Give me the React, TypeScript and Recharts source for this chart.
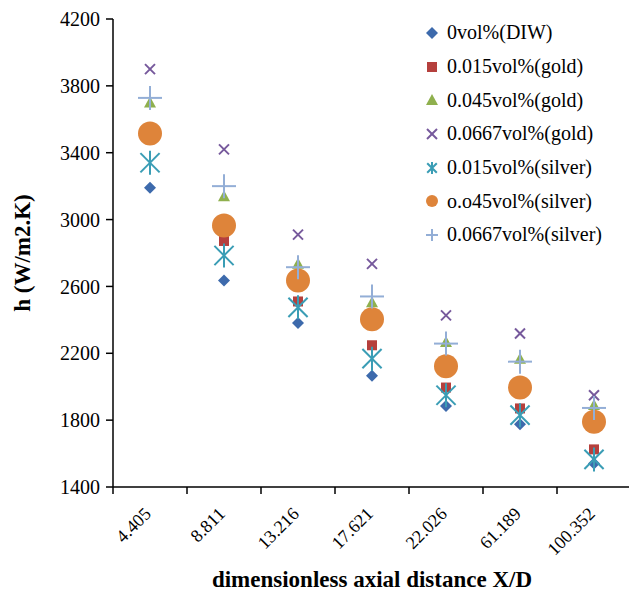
import React from "react";
import { ScatterChart, Scatter, XAxis, YAxis, Label } from "recharts";

const categories = ["4.405", "8.811", "13.216", "17.621", "22.026", "61.189", "100.352"];

const diw = [3190, 2636, 2381, 2065, 1884, 1776, 1540];
const gold015 = [3500, 2872, 2510, 2248, 1995, 1870, 1625];
const gold045 = [3700, 3140, 2735, 2506, 2268, 2168, 1890];
const gold0667 = [3900, 3420, 2910, 2735, 2427, 2318, 1949];
const silver015 = [3340, 2785, 2475, 2168, 1949, 1830, 1565];
const silver045 = [3515, 2964, 2636, 2403, 2122, 1995, 1790];
const silver0667 = [3728, 3200, 2715, 2540, 2258, 2150, 1873];

const yTicks = [1400, 1800, 2200, 2600, 3000, 3400, 3800, 4200];
const xTicks = [0, 1, 2, 3, 4, 5, 6, 7];

const FONT = "'Liberation Serif', 'Times New Roman', serif";
const W = 629;
const H = 585;
const LEFT = 105;
const RIGHT = 6;
const STEP = (W - LEFT - RIGHT) / categories.length;

type MarkerKind = "diamond" | "square" | "triangle" | "x" | "asterisk" | "circle" | "plus";

function Marker({ kind, cx, cy, color, small }: { kind: MarkerKind; cx: number; cy: number; color: string; small?: boolean }) {
  const k = small ? 0.5 : 1;
  switch (kind) {
    case "diamond": {
      const r = 6;
      return <polygon points={`${cx},${cy - r} ${cx + r},${cy} ${cx},${cy + r} ${cx - r},${cy}`} fill={color} />;
    }
    case "square": {
      const r = 5;
      return <rect x={cx - r} y={cy - r} width={2 * r} height={2 * r} fill={color} />;
    }
    case "triangle": {
      const r = 6;
      return <polygon points={`${cx},${cy - r} ${cx + r},${cy + r - 1} ${cx - r},${cy + r - 1}`} fill={color} />;
    }
    case "x": {
      const r = 5;
      return (
        <g stroke={color} strokeWidth={2}>
          <line x1={cx - r} y1={cy - r} x2={cx + r} y2={cy + r} />
          <line x1={cx - r} y1={cy + r} x2={cx + r} y2={cy - r} />
        </g>
      );
    }
    case "asterisk": {
      const r = 12 * k;
      const d = r * 0.8;
      return (
        <g stroke={color} strokeWidth={2}>
          <line x1={cx - d} y1={cy - d} x2={cx + d} y2={cy + d} />
          <line x1={cx - d} y1={cy + d} x2={cx + d} y2={cy - d} />
          <line x1={cx} y1={cy - r} x2={cx} y2={cy + r} />
        </g>
      );
    }
    case "circle":
      return <circle cx={cx} cy={cy} r={small ? 6 : 12} fill={color} />;
    case "plus": {
      const r = small ? 6 : 12;
      return (
        <g stroke={color} strokeWidth={2}>
          <line x1={cx - r} y1={cy} x2={cx + r} y2={cy} />
          <line x1={cx} y1={cy - r} x2={cx} y2={cy + r} />
        </g>
      );
    }
  }
  return null;
}

const series: { name: string; values: number[]; kind: MarkerKind; color: string }[] = [
  { name: "0vol%(DIW)", values: diw, kind: "diamond", color: "#3D6AAC" },
  { name: "0.015vol%(gold)", values: gold015, kind: "square", color: "#B5403D" },
  { name: "0.045vol%(gold)", values: gold045, kind: "triangle", color: "#8FB04E" },
  { name: "0.0667vol%(gold)", values: gold0667, kind: "x", color: "#76599C" },
  { name: "0.015vol%(silver)", values: silver015, kind: "asterisk", color: "#3A9DB5" },
  { name: "o.o45vol%(silver)", values: silver045, kind: "circle", color: "#DE843A" },
  { name: "0.0667vol%(silver)", values: silver0667, kind: "plus", color: "#93AED6" },
];

function XTick(props: any) {
  const { x, y, payload } = props;
  const label = categories[payload.value];
  if (!label) return <g />;
  return (
    <text
      transform={`translate(${x + STEP / 2 + 2},${y + 19}) rotate(-45)`}
      textAnchor="end"
      style={{ fontFamily: FONT, fontSize: 18 }}
      fill="#000"
    >
      {label}
    </text>
  );
}

export default function App() {
  return (
    <div style={{ position: "relative", width: W, height: H }}>
      <ScatterChart width={W} height={H} margin={{ top: 11, right: RIGHT, bottom: 0, left: 0 }}>
        <XAxis
          type="number"
          dataKey="x"
          domain={[0, 7]}
          ticks={xTicks}
          interval={0}
          height={106}
          tick={<XTick />}
          tickSize={7}
          axisLine={{ stroke: "#000", strokeWidth: 1.5 }}
          tickLine={{ stroke: "#000", strokeWidth: 1.5 }}
        >
          <Label
            value="dimensionless axial distance X/D"
            position="insideBottom"
            offset={6}
            style={{ fontFamily: FONT, fontSize: 23, fontWeight: "bold", fill: "#000" }}
          />
        </XAxis>
        <YAxis
          type="number"
          dataKey="y"
          domain={[1400, 4200]}
          ticks={yTicks}
          interval={0}
          width={LEFT}
          tickSize={7}
          tickMargin={6}
          tick={{ style: { fontFamily: FONT, fontSize: 20 }, fill: "#000" }}
          axisLine={{ stroke: "#000", strokeWidth: 1.5 }}
          tickLine={{ stroke: "#000", strokeWidth: 1.5 }}
        >
          <Label
            value="h (W/m2.K)"
            angle={-90}
            position="insideLeft"
            offset={14}
            style={{ fontFamily: FONT, fontSize: 23, fontWeight: "bold", fill: "#000", textAnchor: "middle" }}
          />
        </YAxis>
        {series.map((s) => (
          <Scatter
            key={s.name}
            name={s.name}
            data={s.values.map((v, i) => ({ x: i + 0.5, y: v }))}
            isAnimationActive={false}
            shape={(p: any) => <Marker kind={s.kind} cx={p.cx} cy={p.cy} color={s.color} />}
          />
        ))}
      </ScatterChart>
      <div style={{ position: "absolute", left: 414, top: 8, fontFamily: FONT, fontSize: 20, color: "#000" }}>
        {series.map((s) => (
          <div key={s.name} style={{ display: "flex", alignItems: "center", height: 33.7 }}>
            <svg width={20} height={20} style={{ marginRight: 5 }}>
              <Marker kind={s.kind} cx={10} cy={10} color={s.color} small />
            </svg>
            <span>{s.name}</span>
          </div>
        ))}
      </div>
    </div>
  );
}
